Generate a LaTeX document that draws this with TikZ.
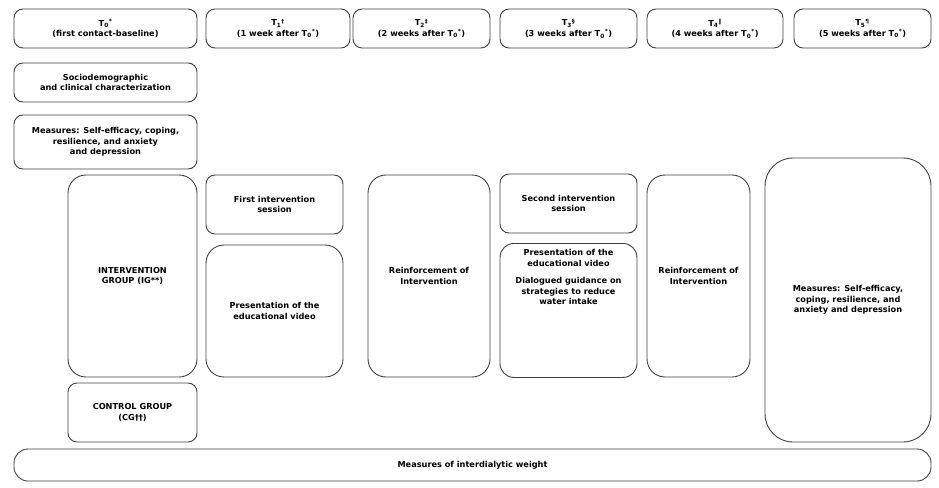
\documentclass[tikz,border=0pt]{standalone}
\usepackage{fontspec}
\setmainfont{DejaVu Sans}
\newcommand{\Tt}[2]{T\textsubscript{#1}\textsuperscript{#2}}
\begin{document}
\begin{tikzpicture}[x=1pt,y=-1pt,
 box/.style={draw=black!75,line width=0.9pt,rounded corners=9pt,align=center,inner sep=2pt,font=\fontsize{8.2}{10.5}\selectfont\bfseries},
 big/.style={box,rounded corners=18pt}]
\useasboundingbox (0,0) rectangle (939,487);
\newcommand{\bx}[7][box]{\node[#1,minimum width={#5-#3},minimum height={#6-#4}] (#2) at ({(#3+#5)/2},{(#4+#6)/2}) {#7};}
\bx{t0}{14}{9}{197}{48}{\Tt0*\\(first contact-baseline)}
\bx{t1}{206}{9}{350}{48}{\Tt1†\\(1 week after \Tt0*)}
\bx{t2}{353}{9}{490}{48}{\Tt2‡\\(2 weeks after \Tt0*)}
\bx{t3}{500}{9}{637}{48}{\Tt3§\\(3 weeks after \Tt0*)}
\bx{t4}{647}{9}{783}{48}{\Tt4‖\\(4 weeks after \Tt0*)}
\bx{t5}{794}{9}{931}{48}{\Tt5¶\\(5 weeks after \Tt0*)}
\bx{soc}{14}{63}{197}{102}{Sociodemographic\\and clinical characterization}
\bx{meas}{14}{115}{197}{169}{Measures: Self-efficacy, coping,\\resilience, and anxiety\\and depression}
\bx[big]{ig}{68}{175}{197}{377}{INTERVENTION\\GROUP (IG**)}
\bx{cg}{68}{383}{197}{442}{CONTROL GROUP\\(CG††)}
\bx{fs}{206}{175}{343}{234}{First intervention\\session}
\bx[big]{v1}{206}{245}{343}{377}{Presentation of the\\educational video}
\bx[big]{r1}{368}{175}{490}{377}{Reinforcement of\\Intervention}
\bx{ss}{500}{174}{637}{233}{Second intervention\\session}
\node[box,rounded corners=14pt,minimum width=137,minimum height=134,anchor=north] (v2) at (568.5,243) {};
\node[align=center,anchor=north,font=\fontsize{8.2}{10.5}\selectfont\bfseries] (v2t) at (568.5,246) {Presentation of the\\educational video\\[7pt]Dialogued guidance on\\strategies to reduce\\water intake};
\bx[big]{r2}{647}{175}{750}{377}{Reinforcement of\\Intervention}
\bx[box,rounded corners=28pt]{m5}{765}{158}{931}{442}{Measures: Self-efficacy,\\coping, resilience, and\\anxiety and depression}
\bx[box,rounded corners=14pt]{iw}{14}{449}{931}{481}{Measures of interdialytic weight}
\end{tikzpicture}
\end{document}
